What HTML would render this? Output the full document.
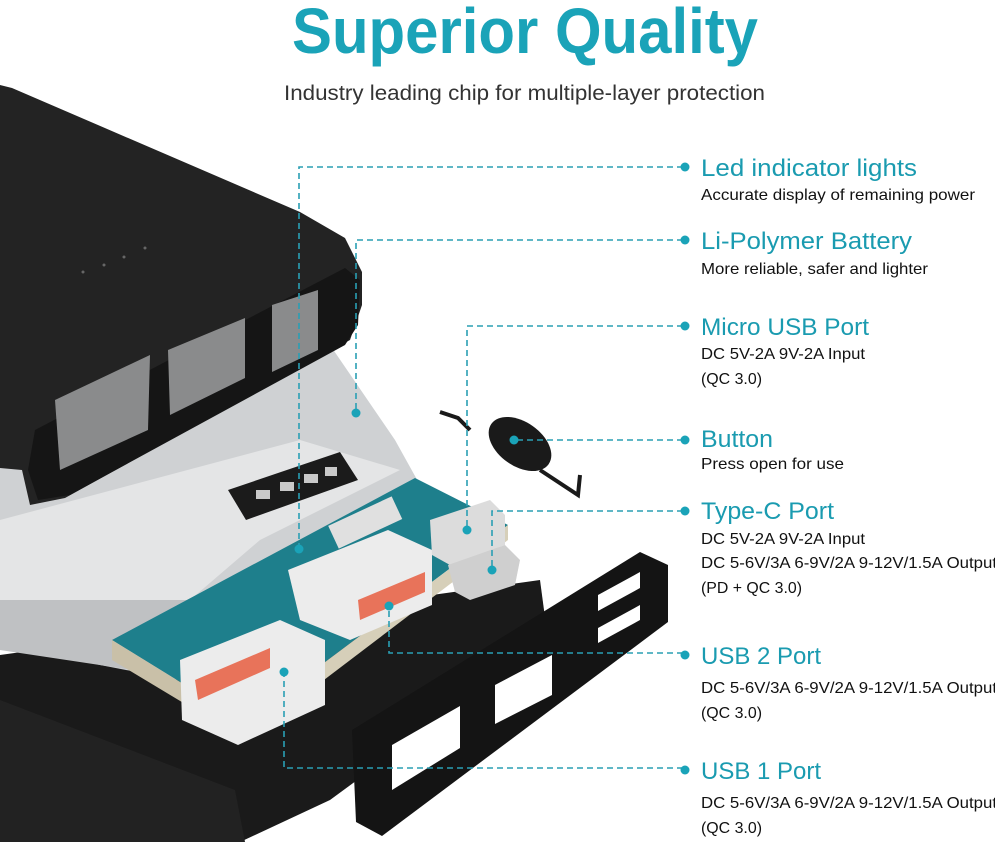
<!DOCTYPE html>
<html><head><meta charset="utf-8"><style>
html,body{margin:0;padding:0;background:#fff;}
svg{display:block;font-family:"Liberation Sans",Arial,sans-serif;}
</style></head><body>
<svg width="995" height="842" viewBox="0 0 995 842" xmlns="http://www.w3.org/2000/svg">
<rect width="995" height="842" fill="#fff"/>
<text x="292" y="53" font-size="64" font-weight="bold" fill="#1aa3b8" textLength="466" lengthAdjust="spacingAndGlyphs">Superior Quality</text>
<text x="284" y="100" font-size="21" fill="#333" textLength="481" lengthAdjust="spacingAndGlyphs">Industry leading chip for multiple-layer protection</text>

<!-- bottom black case -->
<polygon points="0,655 540,580 548,640 330,800 240,842 0,842" fill="#1a1a1a"/>
<polygon points="0,700 235,790 245,842 0,842" fill="#222"/>
<!-- battery silver -->
<polygon points="0,430 330,345 395,440 420,485 260,565 205,685 100,665 0,640" fill="#cfd1d3"/>
<polygon points="0,520 300,440 400,470 260,540 190,600 0,600" fill="#e4e5e6"/>
<polygon points="0,600 190,600 200,680 0,650" fill="#bfc1c3"/>
<!-- LED strip black -->
<polygon points="228,490 340,452 358,480 246,520" fill="#1b1b1b"/>
<g fill="#c9c9c9"><rect x="256" y="490" width="14" height="9"/><rect x="280" y="482" width="14" height="9"/><rect x="304" y="474" width="14" height="9"/><rect x="325" y="467" width="12" height="9"/></g>
<!-- top casing -->
<polygon points="0,85 12,88 300,212 345,238 362,272 362,305 350,340 65,498 30,505 22,470 0,468" fill="#232323"/>
<polygon points="35,430 345,268 360,280 358,325 345,345 70,495 38,500 28,470" fill="#151515"/>
<g fill="#8a8b8c">
<polygon points="55,400 150,355 148,430 60,470"/>
<polygon points="168,350 245,318 245,378 170,415"/>
<polygon points="272,305 318,290 318,350 272,372"/>
</g>
<circle cx="83" cy="272" r="1.5" fill="#666"/><circle cx="104" cy="265" r="1.5" fill="#666"/><circle cx="124" cy="257" r="1.5" fill="#666"/><circle cx="145" cy="248" r="1.5" fill="#666"/>
<!-- PCB -->
<polygon points="112,640 415,478 508,525 245,722" fill="#1e7f8c"/>
<polygon points="112,640 245,722 245,740 112,660" fill="#c9c0a8"/>
<polygon points="245,722 508,525 508,540 245,740" fill="#d6cfb9"/>
<rect x="330" y="510" width="70" height="25" fill="#e0e0e0" transform="rotate(-25 365 522)"/>
<!-- USB ports -->
<polygon points="180,660 280,620 325,640 325,705 238,745 182,720" fill="#ececec"/>
<polygon points="195,680 270,648 270,668 198,700" fill="#e8735a"/>
<polygon points="288,570 388,530 432,550 432,605 350,640 300,620" fill="#ececec"/>
<polygon points="358,600 425,572 425,592 360,620" fill="#e8735a"/>
<!-- micro USB & type-C -->
<polygon points="430,520 490,500 505,515 505,545 450,565 432,555" fill="#dcdcdc"/>
<polygon points="448,565 505,545 520,560 515,585 470,600 455,592" fill="#cfcfcf"/>
<!-- button -->
<ellipse cx="520" cy="444" rx="35" ry="22" fill="#1a1a1a" transform="rotate(35 520 444)"/>
<path d="M440,412 L458,418 L470,430 M540,470 L578,495 L580,475" stroke="#1a1a1a" stroke-width="4" fill="none"/>
<!-- end plate -->
<polygon points="352,730 640,552 668,565 668,622 382,836 356,822" fill="#141414"/>
<g fill="#fff">
<polygon points="392,745 460,706 460,748 392,790"/>
<polygon points="495,685 552,655 552,695 495,724"/>
<polygon points="598,628 640,605 640,620 598,643"/>
<polygon points="598,595 640,572 640,588 598,611"/>
</g>

<!-- leader lines -->
<g stroke="#2a9fb4" stroke-width="1.6" stroke-dasharray="6,4" fill="none">
<polyline points="683,167 299,167 299,549"/>
<polyline points="683,240 356,240 356,413"/>
<polyline points="683,326 467,326 467,530"/>
<polyline points="683,440 514,440"/>
<polyline points="683,511 492,511 492,570"/>
<polyline points="683,653 389,653 389,606"/>
<polyline points="683,768 284,768 284,672"/>
</g>
<g fill="#1aa3b8">
<circle cx="685" cy="167" r="4.5"/><circle cx="685" cy="240" r="4.5"/><circle cx="685" cy="326" r="4.5"/>
<circle cx="685" cy="440" r="4.5"/><circle cx="685" cy="511" r="4.5"/><circle cx="685" cy="655" r="4.5"/><circle cx="685" cy="770" r="4.5"/>
<circle cx="299" cy="549" r="4.5"/><circle cx="356" cy="413" r="4.5"/><circle cx="467" cy="530" r="4.5"/>
<circle cx="514" cy="440" r="4.5"/><circle cx="492" cy="570" r="4.5"/><circle cx="389" cy="606" r="4.5"/><circle cx="284" cy="672" r="4.5"/>
</g>

<g font-size="24" fill="#1a9bb0" lengthAdjust="spacingAndGlyphs">
<text x="701" y="176" textLength="216" lengthAdjust="spacingAndGlyphs">Led indicator lights</text>
<text x="701" y="249" textLength="211" lengthAdjust="spacingAndGlyphs">Li-Polymer Battery</text>
<text x="701" y="335" textLength="168" lengthAdjust="spacingAndGlyphs">Micro USB Port</text>
<text x="701" y="447" textLength="72" lengthAdjust="spacingAndGlyphs">Button</text>
<text x="701" y="519" textLength="133" lengthAdjust="spacingAndGlyphs">Type-C Port</text>
<text x="701" y="664" textLength="120" lengthAdjust="spacingAndGlyphs">USB 2 Port</text>
<text x="701" y="779" textLength="120" lengthAdjust="spacingAndGlyphs">USB 1 Port</text>
</g>
<g font-size="16" fill="#111">
<text x="701" y="200" textLength="274" lengthAdjust="spacingAndGlyphs">Accurate display of remaining power</text>
<text x="701" y="274" textLength="227" lengthAdjust="spacingAndGlyphs">More reliable, safer and lighter</text>
<text x="701" y="359" textLength="164" lengthAdjust="spacingAndGlyphs">DC 5V-2A 9V-2A Input</text>
<text x="701" y="384" textLength="61" lengthAdjust="spacingAndGlyphs">(QC 3.0)</text>
<text x="701" y="469" textLength="143" lengthAdjust="spacingAndGlyphs">Press open for use</text>
<text x="701" y="544" textLength="164" lengthAdjust="spacingAndGlyphs">DC 5V-2A 9V-2A Input</text>
<text x="701" y="568" textLength="296" lengthAdjust="spacingAndGlyphs">DC 5-6V/3A 6-9V/2A 9-12V/1.5A Output</text>
<text x="701" y="593" textLength="101" lengthAdjust="spacingAndGlyphs">(PD + QC 3.0)</text>
<text x="701" y="693" textLength="296" lengthAdjust="spacingAndGlyphs">DC 5-6V/3A 6-9V/2A 9-12V/1.5A Output</text>
<text x="701" y="718" textLength="61" lengthAdjust="spacingAndGlyphs">(QC 3.0)</text>
<text x="701" y="808" textLength="296" lengthAdjust="spacingAndGlyphs">DC 5-6V/3A 6-9V/2A 9-12V/1.5A Output</text>
<text x="701" y="833" textLength="61" lengthAdjust="spacingAndGlyphs">(QC 3.0)</text>
</g>
</svg>
</body></html>
